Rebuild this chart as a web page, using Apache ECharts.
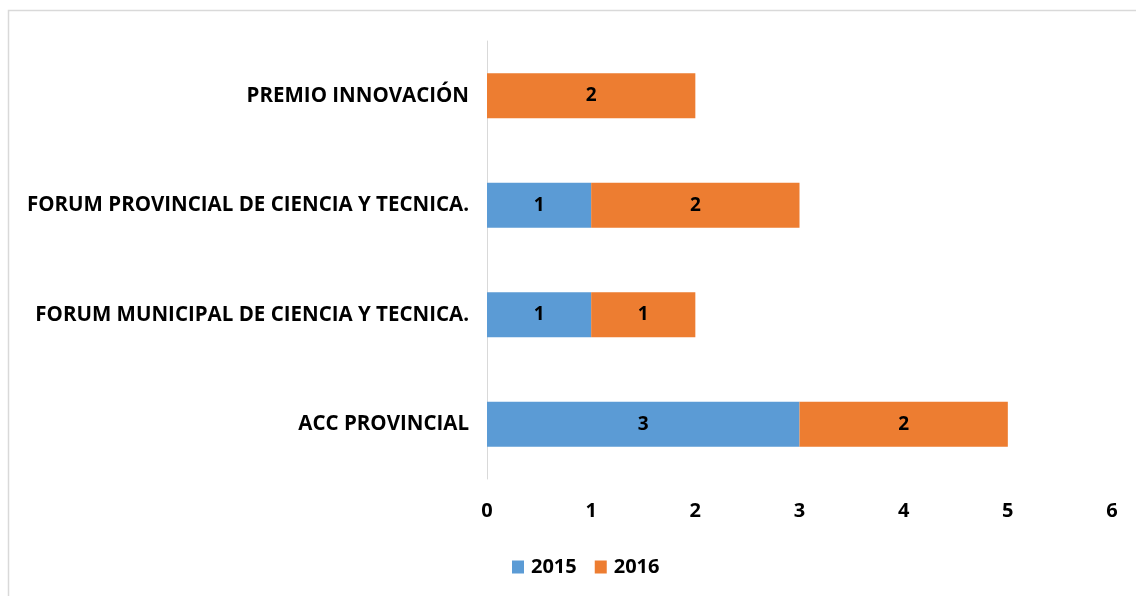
<!DOCTYPE html>
<html>
<head>
<meta charset="utf-8">
<script src="https://cdn.jsdelivr.net/npm/echarts@6/dist/echarts.min.js"></script>
<style>
  html, body { margin: 0; padding: 0; background: #fff; }
  #chart { width: 1136px; height: 596px; }
</style>
</head>
<body>
<div id="chart"></div>
<script>
// categorias (de abajo hacia arriba)
const categorias = [
  'ACC PROVINCIAL',
  'FORUM MUNICIPAL DE CIENCIA Y TECNICA.',
  'FORUM PROVINCIAL DE CIENCIA Y TECNICA.',
  'PREMIO INNOVACIÓN'
]
const valores2015 = [3, 1, 1, null]
const valores2016 = [2, 1, 2, 2]

const fuente = 'Open Sans'
const myChart = echarts.init(document.getElementById('chart'))

const etiqueta = {
  show: true,
  position: 'inside',
  color: '#000',
  fontFamily: fuente,
  fontWeight: 'bold',
  fontSize: 19
}

const option = {
  animation: false,
  textStyle: { fontFamily: fuente },
  graphic: [
    {
      type: 'rect',
      shape: { x: 8.5, y: 10.5, width: 1140, height: 600 },
      style: { fill: 'none', stroke: '#d9d9d9', lineWidth: 1.5 },
      silent: true
    }
  ],
  legend: {
    data: ['2015', '2016'],
    left: 507,
    top: 552,
    itemWidth: 12,
    itemHeight: 13,
    itemGap: 18,
    icon: 'rect',
    textStyle: { fontFamily: fuente, fontWeight: 'bold', fontSize: 20, color: '#000', padding: [0, 0, 0, 2] }
  },
  grid: {
    left: 487,
    right: 24,
    top: 41,
    bottom: 117,
    containLabel: false
  },
  xAxis: {
    type: 'value',
    min: 0,
    max: 6,
    interval: 1,
    axisLine: { show: false },
    axisTick: { show: false },
    splitLine: { show: false },
    axisLabel: {
      margin: 22,
      color: '#000',
      fontFamily: fuente,
      fontWeight: 'bold',
      fontSize: 20
    }
  },
  yAxis: {
    type: 'category',
    data: categorias,
    axisLine: { show: true, lineStyle: { color: '#d9d9d9', width: 1 } },
    axisTick: { show: false },
    axisLabel: {
      margin: 18,
      color: '#000',
      fontFamily: fuente,
      fontWeight: 'bold',
      fontSize: 20.5
    }
  },
  series: [
    {
      name: '2015',
      type: 'bar',
      stack: 'total',
      barCategoryGap: '59%',
      itemStyle: { color: '#5b9bd5' },
      label: etiqueta,
      data: valores2015
    },
    {
      name: '2016',
      type: 'bar',
      stack: 'total',
      barCategoryGap: '59%',
      itemStyle: { color: '#ed7d31' },
      label: etiqueta,
      data: valores2016
    }
  ]
}

myChart.setOption(option)
</script>
</body>
</html>
